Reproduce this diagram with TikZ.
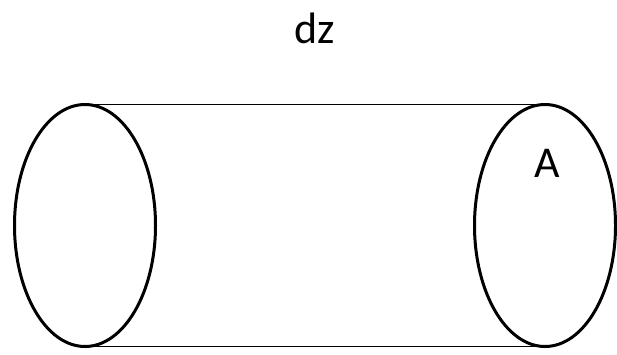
\documentclass[tikz,border=0pt]{standalone}
\usepackage{fontspec}
\setmainfont{Carlito}
\usetikzlibrary{shapes.geometric}

\begin{document}
\begin{tikzpicture}[x=1pt, y=-1pt, every node/.style={font=\fontsize{44}{48}\selectfont},
  face/.style={ellipse, draw, line width=3pt, outer sep=0pt, minimum width=141pt, minimum height=242pt, inner sep=0pt}]
\useasboundingbox (0,0) rectangle (617,354);
\node[face] (L) at (85,225.5) {};
\node[face] (R) at (545,225.5) {};
\node[anchor=base] (dz) at (315,43) {dz};
\node[anchor=base] (A) at (547,177) {A};
\draw[line width=1.5pt] (L.north) -- (R.north) (L.south) -- (R.south);
\end{tikzpicture}
\end{document}
